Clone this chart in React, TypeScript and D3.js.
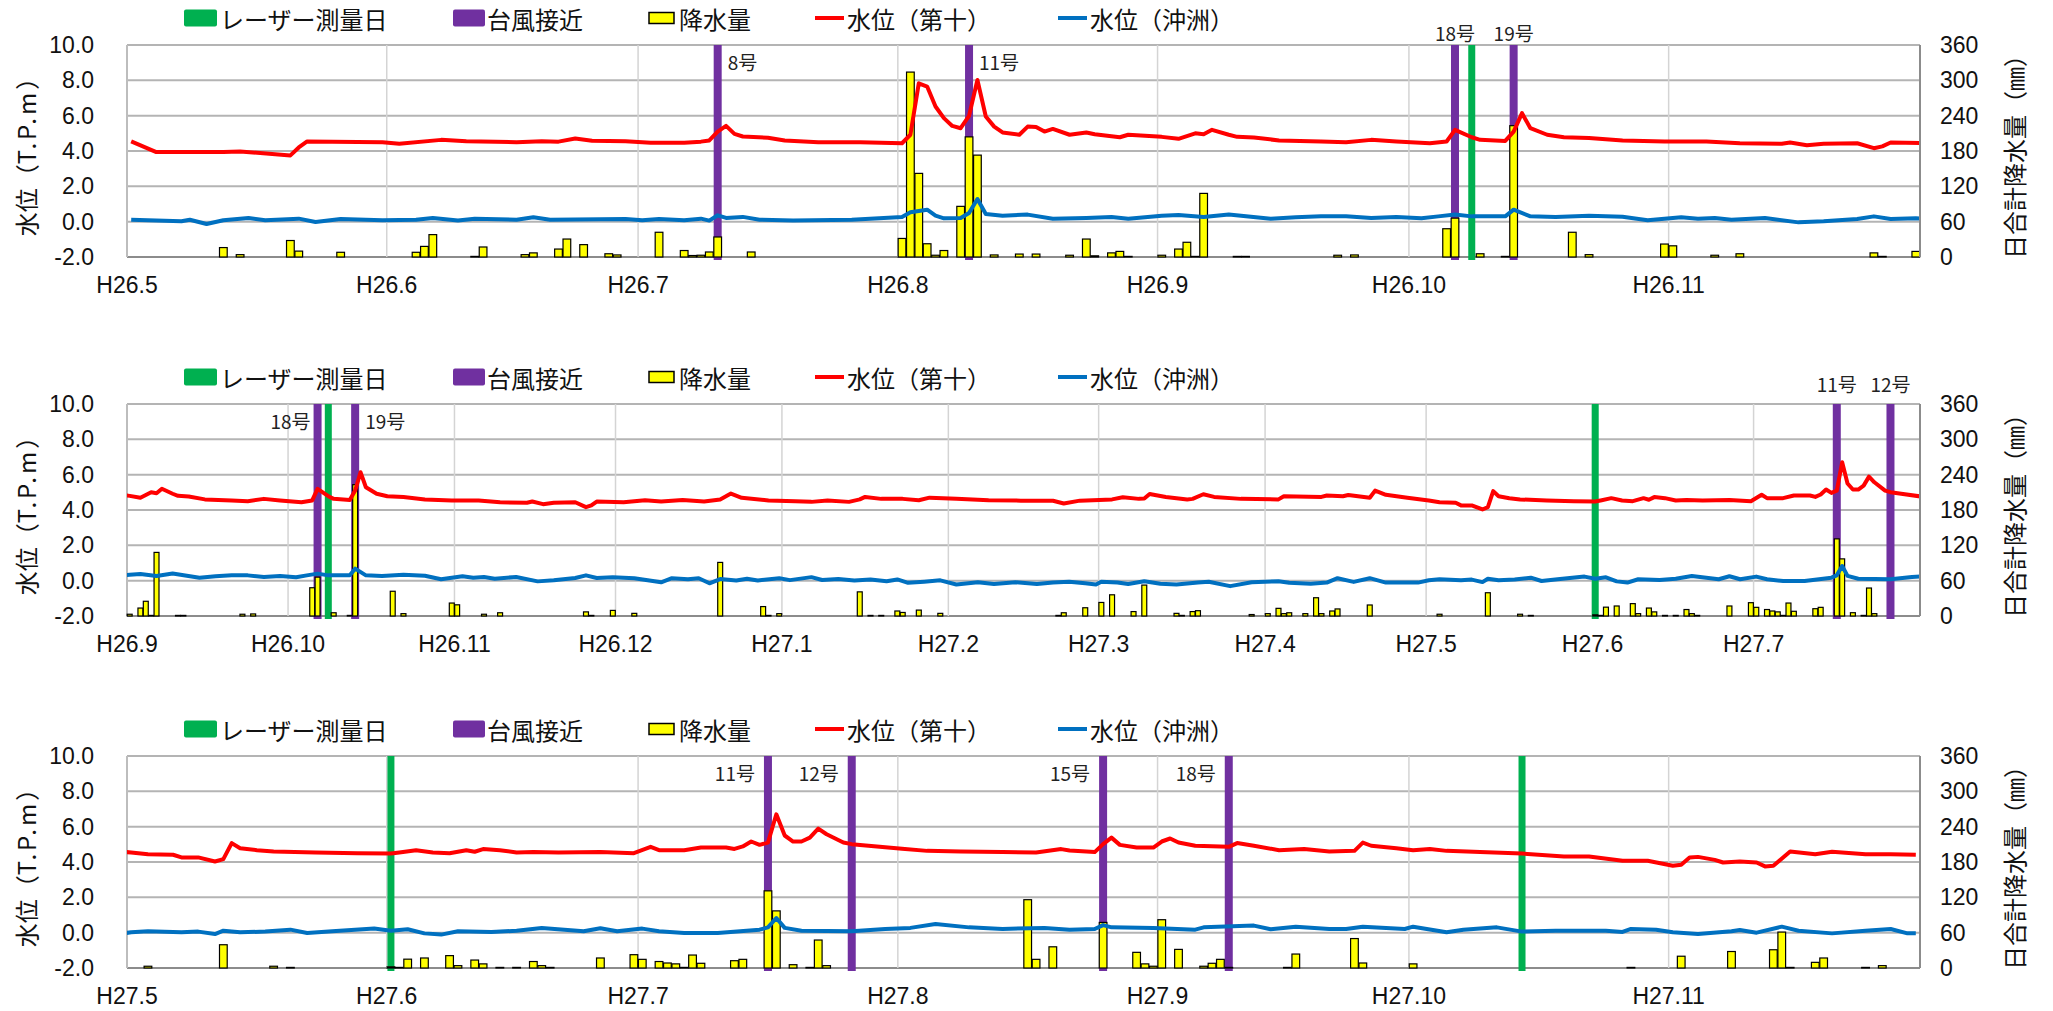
import React, { useEffect, useRef } from 'react';
import * as d3 from 'd3';

// daily rainfall (mm)
const rainfall: [string, number][] = [
  ['2014-05-12', 16], ['2014-05-14', 4], ['2014-05-20', 28], ['2014-05-21', 10], ['2014-05-26', 8],
  ['2014-06-04', 8], ['2014-06-05', 18], ['2014-06-06', 38], ['2014-06-11', 1], ['2014-06-12', 17],
  ['2014-06-17', 4], ['2014-06-18', 7], ['2014-06-21', 13.5], ['2014-06-22', 30.5], ['2014-06-24', 21],
  ['2014-06-27', 5.5], ['2014-06-28', 3.5], ['2014-07-03', 42], ['2014-07-06', 11], ['2014-07-07', 2.5],
  ['2014-07-08', 3], ['2014-07-09', 8.5], ['2014-07-10', 34], ['2014-07-14', 8.5], ['2014-08-01', 31.5],
  ['2014-08-02', 314], ['2014-08-03', 142], ['2014-08-04', 22.5], ['2014-08-05', 3], ['2014-08-06', 11],
  ['2014-08-08', 86], ['2014-08-09', 204], ['2014-08-10', 173], ['2014-08-12', 3.5], ['2014-08-15', 5],
  ['2014-08-17', 5], ['2014-08-21', 3], ['2014-08-23', 30.5], ['2014-08-24', 2], ['2014-08-26', 7],
  ['2014-08-27', 9.5], ['2014-08-28', 1], ['2014-09-01', 3], ['2014-09-03', 13.5], ['2014-09-04', 25],
  ['2014-09-05', 1], ['2014-09-06', 108], ['2014-09-10', 1], ['2014-09-11', 1], ['2014-09-22', 3],
  ['2014-09-24', 3.5], ['2014-10-05', 48], ['2014-10-06', 66], ['2014-10-09', 5.5], ['2014-10-12', 1],
  ['2014-10-13', 223], ['2014-10-20', 42], ['2014-10-22', 4], ['2014-10-31', 22], ['2014-11-01', 19],
  ['2014-11-06', 3], ['2014-11-09', 5.5], ['2014-11-25', 7], ['2014-11-26', 1], ['2014-11-30', 9.5],
  ['2014-12-04', 4.5], ['2014-12-20', 91], ['2014-12-28', 16], ['2014-12-29', 1], ['2014-12-31', 4],
  ['2015-01-15', 41], ['2015-01-17', 1], ['2015-01-19', 1], ['2015-01-22', 8.5], ['2015-01-23', 6],
  ['2015-01-26', 10], ['2015-01-30', 4.5], ['2015-02-21', 1], ['2015-02-22', 5.5], ['2015-02-26', 14],
  ['2015-03-01', 23], ['2015-03-03', 36], ['2015-03-07', 7.5], ['2015-03-09', 52.5], ['2015-03-15', 4.5],
  ['2015-03-16', 1], ['2015-03-18', 7.5], ['2015-03-19', 9], ['2015-03-29', 2.5], ['2015-04-01', 4],
  ['2015-04-03', 13], ['2015-04-04', 4], ['2015-04-05', 5.5], ['2015-04-08', 4], ['2015-04-10', 31],
  ['2015-04-11', 4], ['2015-04-13', 8.5], ['2015-04-14', 12], ['2015-04-20', 18.7], ['2015-05-03', 3],
  ['2015-05-12', 39.5], ['2015-05-18', 3], ['2015-05-20', 1], ['2015-06-01', 2], ['2015-06-02', 1],
  ['2015-06-03', 15], ['2015-06-05', 17], ['2015-06-08', 21], ['2015-06-09', 4], ['2015-06-11', 13.5],
  ['2015-06-12', 7], ['2015-06-14', 1], ['2015-06-16', 1], ['2015-06-18', 11], ['2015-06-19', 4],
  ['2015-06-20', 1], ['2015-06-26', 17], ['2015-06-30', 22.6], ['2015-07-01', 14.7], ['2015-07-03', 11],
  ['2015-07-04', 8.5], ['2015-07-05', 7], ['2015-07-06', 1], ['2015-07-07', 22], ['2015-07-08', 8],
  ['2015-07-12', 12.4], ['2015-07-13', 14.7], ['2015-07-16', 131], ['2015-07-17', 97], ['2015-07-19', 5.6],
  ['2015-07-21', 1], ['2015-07-22', 47.5], ['2015-07-23', 4], ['2015-08-16', 116], ['2015-08-17', 14.7],
  ['2015-08-19', 36], ['2015-08-25', 77.4], ['2015-08-29', 26.6], ['2015-08-30', 7], ['2015-08-31', 3],
  ['2015-09-01', 82], ['2015-09-03', 31.6], ['2015-09-06', 3], ['2015-09-07', 8], ['2015-09-08', 14.7],
  ['2015-09-09', 1], ['2015-09-16', 1], ['2015-09-17', 23.7], ['2015-09-24', 50], ['2015-09-25', 8.5],
  ['2015-10-01', 7], ['2015-10-27', 1], ['2015-11-02', 20], ['2015-11-08', 28], ['2015-11-13', 31],
  ['2015-11-14', 61], ['2015-11-15', 1], ['2015-11-18', 9.6], ['2015-11-19', 17], ['2015-11-24', 1],
  ['2015-11-26', 4],
];

// 水位（第十）T.P.m
const levelDaiju: [string, number][] = [
  ['2014-05-01', 4.54], ['2014-05-04', 3.94], ['2014-05-12', 3.95], ['2014-05-14', 3.97], ['2014-05-20', 3.75],
  ['2014-05-21', 4.2], ['2014-05-22', 4.54], ['2014-05-31', 4.5], ['2014-06-02', 4.41], ['2014-06-07', 4.63],
  ['2014-06-10', 4.55], ['2014-06-16', 4.5], ['2014-06-19', 4.55], ['2014-06-21', 4.53], ['2014-06-23', 4.71],
  ['2014-06-25', 4.58], ['2014-06-29', 4.55], ['2014-07-02', 4.47], ['2014-07-06', 4.47], ['2014-07-08', 4.53],
  ['2014-07-09', 4.6], ['2014-07-10', 5.1], ['2014-07-11', 5.42], ['2014-07-12', 4.97], ['2014-07-13', 4.82],
  ['2014-07-16', 4.75], ['2014-07-18', 4.6], ['2014-07-22', 4.5], ['2014-07-27', 4.5], ['2014-08-01', 4.44],
  ['2014-08-02', 4.92], ['2014-08-03', 7.83], ['2014-08-04', 7.65], ['2014-08-05', 6.52], ['2014-08-06', 5.86],
  ['2014-08-07', 5.42], ['2014-08-08', 5.29], ['2014-08-09', 5.99], ['2014-08-10', 8.02], ['2014-08-11', 5.95],
  ['2014-08-12', 5.38], ['2014-08-13', 5.05], ['2014-08-15', 4.92], ['2014-08-16', 5.38], ['2014-08-17', 5.36],
  ['2014-08-18', 5.1], ['2014-08-19', 5.25], ['2014-08-21', 4.92], ['2014-08-23', 5.05], ['2014-08-24', 4.95],
  ['2014-08-27', 4.78], ['2014-08-28', 4.92], ['2014-09-01', 4.8], ['2014-09-03', 4.69], ['2014-09-05', 5.0],
  ['2014-09-06', 4.95], ['2014-09-07', 5.2], ['2014-09-09', 4.92], ['2014-09-10', 4.8], ['2014-09-12', 4.76],
  ['2014-09-15', 4.6], ['2014-09-20', 4.54], ['2014-09-23', 4.5], ['2014-09-26', 4.63], ['2014-09-29', 4.54],
  ['2014-10-03', 4.44], ['2014-10-05', 4.54], ['2014-10-06', 5.2], ['2014-10-08', 4.78], ['2014-10-09', 4.63],
  ['2014-10-12', 4.57], ['2014-10-13', 5.1], ['2014-10-14', 6.14], ['2014-10-15', 5.29], ['2014-10-17', 4.92],
  ['2014-10-19', 4.78], ['2014-10-22', 4.73], ['2014-10-26', 4.6], ['2014-10-31', 4.54], ['2014-11-05', 4.54],
  ['2014-11-09', 4.44], ['2014-11-14', 4.41], ['2014-11-15', 4.48], ['2014-11-17', 4.33], ['2014-11-19', 4.41],
  ['2014-11-23', 4.44], ['2014-11-25', 4.16], ['2014-11-26', 4.26], ['2014-11-27', 4.48], ['2014-12-02', 4.44],
  ['2014-12-06', 4.55], ['2014-12-09', 4.48], ['2014-12-13', 4.57], ['2014-12-17', 4.48], ['2014-12-20', 4.6],
  ['2014-12-22', 4.93], ['2014-12-24', 4.69], ['2014-12-29', 4.54], ['2015-01-03', 4.5], ['2015-01-06', 4.46],
  ['2015-01-09', 4.54], ['2015-01-13', 4.46], ['2015-01-15', 4.6], ['2015-01-16', 4.74], ['2015-01-19', 4.63],
  ['2015-01-23', 4.63], ['2015-01-26', 4.55], ['2015-01-28', 4.7], ['2015-02-02', 4.63], ['2015-02-08', 4.55],
  ['2015-02-14', 4.53], ['2015-02-20', 4.52], ['2015-02-22', 4.37], ['2015-02-25', 4.53], ['2015-03-03', 4.6],
  ['2015-03-05', 4.72], ['2015-03-08', 4.63], ['2015-03-09', 4.65], ['2015-03-10', 4.91], ['2015-03-13', 4.74],
  ['2015-03-17', 4.6], ['2015-03-18', 4.63], ['2015-03-20', 4.89], ['2015-03-22', 4.74], ['2015-03-27', 4.63],
  ['2015-04-03', 4.6], ['2015-04-04', 4.78], ['2015-04-11', 4.74], ['2015-04-12', 4.82], ['2015-04-15', 4.78],
  ['2015-04-16', 4.85], ['2015-04-20', 4.69], ['2015-04-21', 5.1], ['2015-04-23', 4.86], ['2015-04-27', 4.69],
  ['2015-05-01', 4.54], ['2015-05-03', 4.44], ['2015-05-06', 4.41], ['2015-05-07', 4.26], ['2015-05-09', 4.26],
  ['2015-05-11', 4.03], ['2015-05-12', 4.16], ['2015-05-13', 5.07], ['2015-05-14', 4.78], ['2015-05-16', 4.67],
  ['2015-05-18', 4.6], ['2015-05-23', 4.54], ['2015-05-28', 4.5], ['2015-06-01', 4.48], ['2015-06-02', 4.54],
  ['2015-06-04', 4.67], ['2015-06-06', 4.54], ['2015-06-08', 4.5], ['2015-06-10', 4.67], ['2015-06-11', 4.58],
  ['2015-06-12', 4.73], ['2015-06-14', 4.67], ['2015-06-16', 4.54], ['2015-06-18', 4.56], ['2015-06-21', 4.54],
  ['2015-06-26', 4.56], ['2015-06-30', 4.5], ['2015-07-02', 4.86], ['2015-07-03', 4.67], ['2015-07-06', 4.67],
  ['2015-07-08', 4.82], ['2015-07-11', 4.82], ['2015-07-12', 4.74], ['2015-07-13', 4.88], ['2015-07-14', 5.16],
  ['2015-07-15', 4.97], ['2015-07-16', 5.1], ['2015-07-17', 6.7], ['2015-07-18', 5.5], ['2015-07-19', 5.16],
  ['2015-07-20', 5.16], ['2015-07-21', 5.38], ['2015-07-22', 5.89], ['2015-07-23', 5.57], ['2015-07-25', 5.1],
  ['2015-07-26', 5.01], ['2015-07-28', 4.92], ['2015-08-01', 4.75], ['2015-08-04', 4.63], ['2015-08-08', 4.6],
  ['2015-08-13', 4.57], ['2015-08-17', 4.54], ['2015-08-20', 4.73], ['2015-08-21', 4.65], ['2015-08-24', 4.56],
  ['2015-08-25', 5.01], ['2015-08-26', 5.38], ['2015-08-27', 4.97], ['2015-08-29', 4.82], ['2015-08-31', 4.82],
  ['2015-09-01', 5.16], ['2015-09-02', 5.33], ['2015-09-03', 5.1], ['2015-09-05', 4.92], ['2015-09-09', 4.86],
  ['2015-09-10', 5.07], ['2015-09-12', 4.92], ['2015-09-15', 4.67], ['2015-09-18', 4.73], ['2015-09-21', 4.6],
  ['2015-09-24', 4.63], ['2015-09-25', 5.1], ['2015-09-26', 4.92], ['2015-09-29', 4.78], ['2015-10-01', 4.67],
  ['2015-10-03', 4.73], ['2015-10-05', 4.63], ['2015-10-09', 4.56], ['2015-10-14', 4.48], ['2015-10-19', 4.31],
  ['2015-10-22', 4.31], ['2015-10-26', 4.07], ['2015-10-29', 4.07], ['2015-11-01', 3.79], ['2015-11-02', 3.85],
  ['2015-11-03', 4.26], ['2015-11-04', 4.29], ['2015-11-06', 4.12], ['2015-11-07', 3.97], ['2015-11-09', 4.03],
  ['2015-11-11', 3.97], ['2015-11-12', 3.75], ['2015-11-13', 3.79], ['2015-11-15', 4.6], ['2015-11-18', 4.44],
  ['2015-11-20', 4.58], ['2015-11-24', 4.44], ['2015-11-27', 4.44], ['2015-11-30', 4.41],
];

// 水位（沖洲）T.P.m
const levelOkinosu: [string, number][] = [
  ['2014-05-01', 0.11], ['2014-05-07', 0.02], ['2014-05-08', 0.11], ['2014-05-10', -0.13], ['2014-05-12', 0.08],
  ['2014-05-15', 0.21], ['2014-05-17', 0.08], ['2014-05-21', 0.17], ['2014-05-23', -0.02], ['2014-05-26', 0.15],
  ['2014-05-31', 0.08], ['2014-06-04', 0.11], ['2014-06-06', 0.21], ['2014-06-09', 0.06], ['2014-06-11', 0.17],
  ['2014-06-16', 0.11], ['2014-06-18', 0.25], ['2014-06-20', 0.11], ['2014-06-29', 0.15], ['2014-07-01', 0.08],
  ['2014-07-03', 0.15], ['2014-07-06', 0.08], ['2014-07-08', 0.17], ['2014-07-09', 0.06], ['2014-07-10', 0.36],
  ['2014-07-11', 0.21], ['2014-07-13', 0.27], ['2014-07-15', 0.11], ['2014-07-19', 0.06], ['2014-07-26', 0.11],
  ['2014-08-01', 0.27], ['2014-08-02', 0.53], ['2014-08-04', 0.68], ['2014-08-05', 0.34], ['2014-08-06', 0.19],
  ['2014-08-08', 0.21], ['2014-08-09', 0.49], ['2014-08-10', 1.28], ['2014-08-11', 0.43], ['2014-08-13', 0.34],
  ['2014-08-16', 0.4], ['2014-08-19', 0.17], ['2014-08-23', 0.21], ['2014-08-26', 0.27], ['2014-08-28', 0.17],
  ['2014-09-01', 0.34], ['2014-09-03', 0.38], ['2014-09-06', 0.27], ['2014-09-09', 0.4], ['2014-09-14', 0.17],
  ['2014-09-17', 0.25], ['2014-09-20', 0.3], ['2014-09-23', 0.3], ['2014-09-26', 0.21], ['2014-09-29', 0.27],
  ['2014-10-02', 0.19], ['2014-10-04', 0.3], ['2014-10-06', 0.4], ['2014-10-08', 0.3], ['2014-10-12', 0.3],
  ['2014-10-13', 0.68], ['2014-10-15', 0.3], ['2014-10-18', 0.27], ['2014-10-22', 0.34], ['2014-10-26', 0.28],
  ['2014-10-29', 0.08], ['2014-11-02', 0.25], ['2014-11-04', 0.17], ['2014-11-06', 0.21], ['2014-11-08', 0.11],
  ['2014-11-12', 0.21], ['2014-11-16', -0.04], ['2014-11-19', 0.02], ['2014-11-23', 0.15], ['2014-11-25', 0.3],
  ['2014-11-27', 0.15], ['2014-11-30', 0.19], ['2014-12-04', 0.14], ['2014-12-09', -0.09], ['2014-12-11', 0.14],
  ['2014-12-14', 0.08], ['2014-12-16', 0.14], ['2014-12-18', -0.15], ['2014-12-20', 0.09], ['2014-12-23', 0.01],
  ['2014-12-25', 0.11], ['2014-12-27', 0.01], ['2014-12-31', 0.14], ['2015-01-02', 0.03], ['2015-01-06', 0.2],
  ['2015-01-08', 0.04], ['2015-01-11', 0.09], ['2015-01-14', 0.01], ['2015-01-17', 0.07], ['2015-01-20', -0.03],
  ['2015-01-22', 0.07], ['2015-01-24', -0.12], ['2015-01-27', -0.06], ['2015-01-30', 0.02], ['2015-02-02', -0.22],
  ['2015-02-06', -0.09], ['2015-02-09', -0.19], ['2015-02-13', -0.09], ['2015-02-17', -0.19], ['2015-02-20', -0.1],
  ['2015-02-23', -0.06], ['2015-02-26', -0.15], ['2015-02-28', -0.22], ['2015-03-01', -0.06], ['2015-03-04', -0.1],
  ['2015-03-06', -0.19], ['2015-03-09', -0.03], ['2015-03-12', -0.17], ['2015-03-15', -0.22], ['2015-03-19', -0.1],
  ['2015-03-21', -0.06], ['2015-03-25', -0.31], ['2015-03-29', -0.09], ['2015-04-03', -0.03], ['2015-04-05', -0.12],
  ['2015-04-09', -0.17], ['2015-04-12', -0.11], ['2015-04-14', 0.14], ['2015-04-17', -0.07], ['2015-04-20', 0.14],
  ['2015-04-23', -0.11], ['2015-04-29', -0.11], ['2015-05-01', 0.02], ['2015-05-03', 0.08], ['2015-05-07', 0.02],
  ['2015-05-09', 0.06], ['2015-05-11', -0.08], ['2015-05-12', 0.11], ['2015-05-14', 0.02], ['2015-05-17', 0.06],
  ['2015-05-20', 0.17], ['2015-05-22', -0.02], ['2015-05-25', 0.08], ['2015-05-30', 0.23], ['2015-06-01', 0.11],
  ['2015-06-03', 0.19], ['2015-06-05', -0.04], ['2015-06-07', -0.11], ['2015-06-09', 0.08], ['2015-06-13', 0.04],
  ['2015-06-16', 0.11], ['2015-06-19', 0.26], ['2015-06-24', 0.08], ['2015-06-26', 0.25], ['2015-06-28', 0.08],
  ['2015-07-01', 0.23], ['2015-07-03', 0.08], ['2015-07-06', -0.02], ['2015-07-10', -0.02], ['2015-07-15', 0.17],
  ['2015-07-16', 0.3], ['2015-07-17', 0.83], ['2015-07-18', 0.27], ['2015-07-20', 0.11], ['2015-07-26', 0.08],
  ['2015-07-30', 0.21], ['2015-08-02', 0.27], ['2015-08-05', 0.49], ['2015-08-09', 0.3], ['2015-08-13', 0.21],
  ['2015-08-18', 0.27], ['2015-08-21', 0.17], ['2015-08-24', 0.21], ['2015-08-25', 0.43], ['2015-08-26', 0.3],
  ['2015-08-31', 0.27], ['2015-09-05', 0.17], ['2015-09-06', 0.3], ['2015-09-12', 0.4], ['2015-09-14', 0.19],
  ['2015-09-17', 0.34], ['2015-09-21', 0.21], ['2015-09-23', 0.21], ['2015-09-25', 0.34], ['2015-09-30', 0.21],
  ['2015-10-01', 0.34], ['2015-10-05', 0.02], ['2015-10-07', 0.17], ['2015-10-11', 0.3], ['2015-10-14', 0.06],
  ['2015-10-18', 0.11], ['2015-10-24', 0.11], ['2015-10-26', 0.04], ['2015-10-27', 0.21], ['2015-10-30', 0.17],
  ['2015-11-01', 0.02], ['2015-11-04', -0.08], ['2015-11-08', 0.08], ['2015-11-09', 0.15], ['2015-11-11', 0.0],
  ['2015-11-14', 0.34], ['2015-11-16', 0.11], ['2015-11-20', -0.04], ['2015-11-24', 0.11], ['2015-11-27', 0.21],
  ['2015-11-29', -0.04], ['2015-11-30', -0.04],
];

// 台風接近
const typhoons: [string, string][] = [
  ['2014-07-10', '8号'], ['2014-08-09', '11号'], ['2014-10-06', '18号'], ['2014-10-13', '19号'],
  ['2015-07-16', '11号'], ['2015-07-26', '12号'], ['2015-08-25', '15号'], ['2015-09-09', '18号'],
];

// レーザー測量日
const laserDates: string[] = ['2014-10-08', '2015-06-01', '2015-10-14'];

const levelTicks = [-2, 0, 2, 4, 6, 8, 10];
const rainTicks = [0, 60, 120, 180, 240, 300, 360];
const ticksH26a = ['H26.5', 'H26.6', 'H26.7', 'H26.8', 'H26.9', 'H26.10', 'H26.11'];
const ticksH26b = ['H26.9', 'H26.10', 'H26.11', 'H26.12', 'H27.1', 'H27.2', 'H27.3', 'H27.4', 'H27.5', 'H27.6', 'H27.7'];
const ticksH27 = ['H27.5', 'H27.6', 'H27.7', 'H27.8', 'H27.9', 'H27.10', 'H27.11'];

type Place = 'left' | 'right' | 'top';
const panels: { start: string; end: string; ticks: string[]; top: number; topLabelGap: number; leftGap: number; place: Record<string, Place> }[] = [
  { start: '2014-05-01', end: '2014-12-01', ticks: ticksH26a, top: 45, topLabelGap: 13, leftGap: 10,
    place: { '2014-07-10': 'right', '2014-08-09': 'right', '2014-10-06': 'top', '2014-10-13': 'top' } },
  { start: '2014-09-01', end: '2015-08-01', ticks: ticksH26b, top: 404, topLabelGap: 21, leftGap: 7,
    place: { '2014-10-06': 'left', '2014-10-13': 'right', '2015-07-16': 'top', '2015-07-26': 'top' } },
  { start: '2015-05-01', end: '2015-12-01', ticks: ticksH27, top: 756, topLabelGap: 13, leftGap: 13,
    place: { '2015-07-16': 'left', '2015-07-26': 'left', '2015-08-25': 'left', '2015-09-09': 'left' } },
];

const W = 2053;
const H = 1011;
const plotLeft = 127;
const plotRight = 1920;
const plotH = 212;
const FONT = "'Noto Sans CJK JP', 'Noto Sans', sans-serif";
const NUM_FONT = "'Liberation Sans', 'DejaVu Sans', sans-serif";
const RED = '#ff0000';
const BLUE = '#0070c0';
const PURPLE = '#7030a0';
const GREEN = '#00b050';

const parse = d3.timeParse('%Y-%m-%d');
const noon = (s: string) => d3.timeHour.offset(parse(s) as Date, 12);

const App: React.FC = () => {
  const ref = useRef<SVGSVGElement | null>(null);

  useEffect(() => {
    if (!ref.current) return;
    const svg = d3.select(ref.current);
    svg.selectAll('*').remove();

    panels.forEach((p, i) => {
      const top = p.top;
      const bottom = top + plotH;
      const start = parse(p.start) as Date;
      const end = parse(p.end) as Date;
      const x = d3.scaleTime().domain([start, end]).range([plotLeft, plotRight]);
      const y = d3.scaleLinear().domain([-2, 10]).range([bottom, top]);
      const yr = d3.scaleLinear().domain([0, 360]).range([bottom, top]);
      const dayW = (plotRight - plotLeft) / d3.timeDay.count(start, end);
      const inRange = (s: string) => {
        const d = noon(s);
        return d >= start && d <= end;
      };

      const g = svg.append('g');
      g.append('clipPath').attr('id', `clip${i}`)
        .append('rect').attr('x', plotLeft).attr('y', top - 5).attr('width', plotRight - plotLeft).attr('height', plotH + 10);

      // horizontal grid
      g.selectAll('.hgrid').data(levelTicks).enter().append('line')
        .attr('x1', plotLeft).attr('x2', plotRight)
        .attr('y1', (d) => y(d)).attr('y2', (d) => y(d))
        .attr('stroke', (d) => (d === -2 ? '#8c8c8c' : '#b4b4b4'))
        .attr('stroke-width', 2);

      // month grid
      const months = d3.timeMonth.range(start, end);
      g.selectAll('.vgrid').data(months).enter().append('line')
        .attr('x1', (d) => x(d)).attr('x2', (d) => x(d))
        .attr('y1', top).attr('y2', bottom)
        .attr('stroke', (d, k) => (k === 0 ? '#bdbdbd' : '#d4d4d4'))
        .attr('stroke-width', (d, k) => (k === 0 ? 2 : 1.5));

      // x tick labels
      g.selectAll('.xlab').data(months).enter().append('text')
        .attr('x', (d) => x(d)).attr('y', bottom + 28)
        .attr('text-anchor', 'middle').attr('dominant-baseline', 'central')
        .attr('font-family', NUM_FONT).attr('font-size', 23).attr('fill', '#111')
        .text((d, k) => p.ticks[k]);

      // left ticks
      g.selectAll('.ylab').data(levelTicks).enter().append('text')
        .attr('x', 94).attr('y', (d) => y(d))
        .attr('text-anchor', 'end').attr('dominant-baseline', 'central')
        .attr('font-family', NUM_FONT).attr('font-size', 23).attr('fill', '#111')
        .text((d) => d.toFixed(1));

      // right ticks
      g.selectAll('.rlab').data(rainTicks).enter().append('text')
        .attr('x', 1940).attr('y', (d) => yr(d))
        .attr('text-anchor', 'start').attr('dominant-baseline', 'central')
        .attr('font-family', NUM_FONT).attr('font-size', 23).attr('fill', '#111')
        .text((d) => `${d}`);

      // axis titles
      const lt = g.append('text')
        .attr('transform', `translate(25, ${top + plotH / 2}) rotate(-90)`)
        .attr('text-anchor', 'middle').attr('dominant-baseline', 'central')
        .attr('font-family', FONT).attr('font-size', 24).attr('fill', '#111');
      lt.append('tspan').text('水位（');
      lt.append('tspan').attr('letter-spacing', 3).text('T.P.m');
      lt.append('tspan').text('）');
      g.append('text')
        .attr('transform', `translate(2013, ${top + plotH / 2}) rotate(-90)`)
        .attr('text-anchor', 'middle').attr('dominant-baseline', 'central')
        .attr('font-family', FONT).attr('font-size', 24).attr('fill', '#111')
        .text('日合計降水量（㎜）');

      // event lines
      const laser = laserDates.filter(inRange);
      g.selectAll('.laser').data(laser).enter().append('line')
        .attr('x1', (d) => x(noon(d))).attr('x2', (d) => x(noon(d)))
        .attr('y1', top).attr('y2', bottom + 3)
        .attr('stroke', GREEN).attr('stroke-width', 7);
      const ty = typhoons.filter((t) => inRange(t[0]));
      g.selectAll('.typhoon').data(ty).enter().append('line')
        .attr('x1', (d) => x(noon(d[0]))).attr('x2', (d) => x(noon(d[0])))
        .attr('y1', top).attr('y2', bottom + 3)
        .attr('stroke', PURPLE).attr('stroke-width', 8);

      // rain bars
      const bw = dayW * 0.92;
      g.selectAll('.bar').data(rainfall.filter((r) => inRange(r[0]))).enter().append('rect')
        .attr('x', (d) => x(noon(d[0])) - bw / 2)
        .attr('y', (d) => yr(d[1]))
        .attr('width', bw)
        .attr('height', (d) => bottom - yr(d[1]))
        .attr('fill', '#ffff00').attr('stroke', '#000').attr('stroke-width', 1.2);

      // water level lines
      const line = d3.line<[string, number]>()
        .x((d) => x(noon(d[0])))
        .y((d) => y(d[1]));
      const series: [[string, number][], string][] = [[levelDaiju, RED], [levelOkinosu, BLUE]];
      series.forEach(([data, color]) => {
        g.append('path').datum(data)
          .attr('clip-path', `url(#clip${i})`)
          .attr('d', line)
          .attr('fill', 'none').attr('stroke', color).attr('stroke-width', 4)
          .attr('stroke-linejoin', 'round');
      });

      // right axis line
      g.append('line').attr('x1', plotRight).attr('x2', plotRight).attr('y1', top).attr('y2', bottom)
        .attr('stroke', '#8c8c8c').attr('stroke-width', 2);

      // typhoon labels
      ty.forEach(([d, name]) => {
        const cx = x(noon(d));
        const pl = p.place[d] || 'left';
        const t = g.append('text')
          .attr('font-family', FONT).attr('font-size', 19).attr('fill', '#222')
          .attr('dominant-baseline', 'central').text(name);
        if (pl === 'top') {
          t.attr('x', cx).attr('y', top - p.topLabelGap).attr('text-anchor', 'middle');
        } else if (pl === 'right') {
          t.attr('x', cx + 10).attr('y', top + 16).attr('text-anchor', 'start');
        } else {
          t.attr('x', cx - p.leftGap).attr('y', top + 16).attr('text-anchor', 'end');
        }
      });

      // legend
      const ly = top - 27;
      const lg = g.append('g').attr('font-family', FONT).attr('font-size', 24).attr('fill', '#111');
      lg.append('rect').attr('x', 184).attr('y', ly - 8.5).attr('width', 33).attr('height', 17).attr('rx', 2).attr('fill', GREEN);
      lg.append('text').attr('x', 220).attr('y', ly).attr('dominant-baseline', 'central').text('レーザー測量日');
      lg.append('rect').attr('x', 453).attr('y', ly - 8.5).attr('width', 32).attr('height', 17).attr('rx', 2).attr('fill', PURPLE);
      lg.append('text').attr('x', 487).attr('y', ly).attr('dominant-baseline', 'central').text('台風接近');
      lg.append('rect').attr('x', 649).attr('y', ly - 5.5).attr('width', 25).attr('height', 11)
        .attr('fill', '#ffff00').attr('stroke', '#000').attr('stroke-width', 1.5);
      lg.append('text').attr('x', 679).attr('y', ly).attr('dominant-baseline', 'central').text('降水量');
      lg.append('line').attr('x1', 815).attr('x2', 844).attr('y1', ly).attr('y2', ly).attr('stroke', RED).attr('stroke-width', 4);
      lg.append('text').attr('x', 847).attr('y', ly).attr('dominant-baseline', 'central').text('水位（第十）');
      lg.append('line').attr('x1', 1058).attr('x2', 1087).attr('y1', ly).attr('y2', ly).attr('stroke', BLUE).attr('stroke-width', 4);
      lg.append('text').attr('x', 1090).attr('y', ly).attr('dominant-baseline', 'central').text('水位（沖洲）');
    });

    return () => {
      if (ref.current) ref.current.innerHTML = '';
    };
  }, []);

  return (
    <svg ref={ref} width={W} height={H}
      style={{ position: 'absolute', left: 0, top: 0, background: '#fff' }} />
  );
};

export default App;
